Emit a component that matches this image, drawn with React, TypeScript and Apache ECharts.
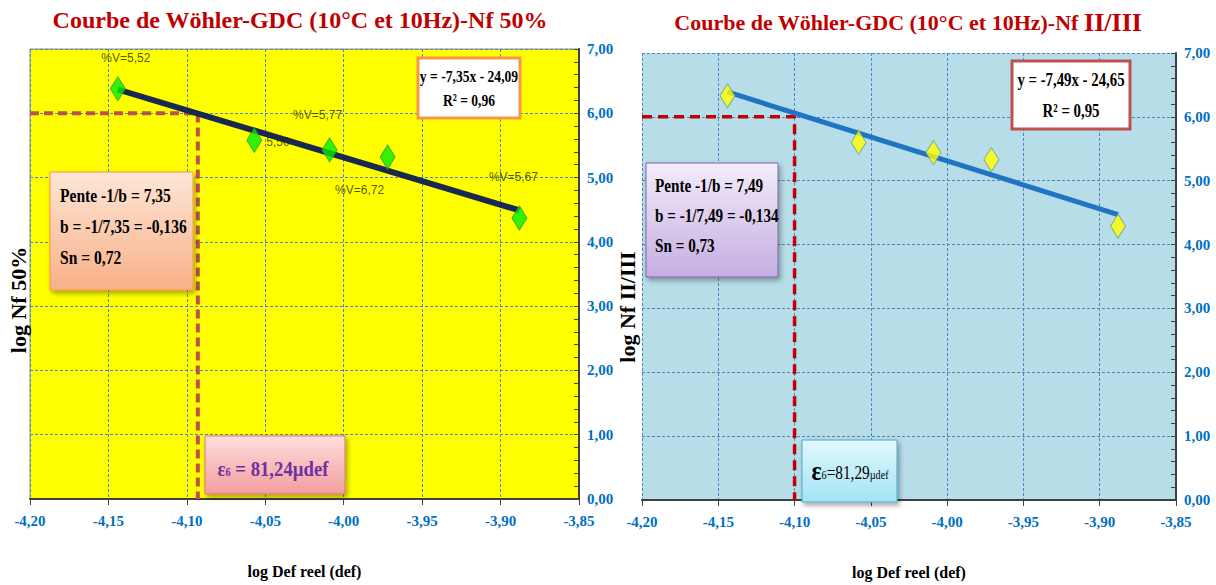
import React, { useEffect, useRef } from "react";
import * as echarts from "echarts";

// ---------- data ----------
const xMin = -4.2;
const xMax = -3.85;
const xStep = 0.05;
const yMin = 0;
const yMax = 7;
const yStep = 1;

const leftX = [-4.144, -4.057, -4.009, -3.972, -3.888];
const leftY = [6.38, 5.58, 5.43, 5.32, 4.37];
const leftLabels = ["%V=5,52", "5,50", "%V=5,77", "%V=6,72", "%V=5,67"];
const leftTrendX = [-4.144, -3.888];
const leftTrendY = [6.37, 4.49];
const leftEps = -4.093;
const leftLevel = 6.0;

const rightX = [-4.144, -4.058, -4.009, -3.971, -3.888];
const rightY = [6.33, 5.6, 5.44, 5.33, 4.29];
const rightTrendX = [-4.144, -3.888];
const rightTrendY = [6.39, 4.47];
const rightEps = -4.1;
const rightLevel = 6.0;

const titles = [
  "Courbe de Wöhler-GDC (10°C et 10Hz)-Nf 50%",
  "Courbe de Wöhler-GDC (10°C et 10Hz)-Nf ",
  "II/III",
];
const xName = "log Def reel (def)";
const yNames = ["log Nf 50%", "log Nf II/III"];
const leftBox = ["Pente -1/b = 7,35", "b = -1/7,35 = -0,136", "Sn = 0,72"];
const rightBox = ["Pente -1/b = 7,49", "b = -1/7,49 = -0,134", "Sn = 0,73"];
const leftEq = ["y = -7,35x - 24,09", "R² = 0,96"];
const rightEq = ["y = -7,49x - 24,65", "R² = 0,95"];

const SERIF = "'Liberation Serif', 'DejaVu Serif', serif";
const fmt = (v: number) => v.toFixed(2).replace(".", ",");

function xAxisCfg(gridIndex: number) {
  return {
    type: "value",
    gridIndex,
    min: xMin,
    max: xMax,
    interval: xStep,
    name: xName,
    nameLocation: "middle",
    nameGap: 64,
    nameTextStyle: { fontFamily: SERIF, fontWeight: "bold", fontSize: 16, color: "#000" },
    axisLine: { show: true, onZero: false, lineStyle: { color: "#404040", width: 2 } },
    axisTick: { show: true, length: 6, lineStyle: { color: "#404040", width: 1 } },
    axisLabel: {
      formatter: fmt,
      color: "#0070c0",
      fontFamily: SERIF,
      fontWeight: "bold",
      fontSize: 15,
      margin: 14,
    },
    splitLine: { show: true, lineStyle: { color: "#4a86c8", type: [3, 2], width: 1 } },
  };
}

function yAxisCfg(gridIndex: number) {
  return {
    type: "value",
    gridIndex,
    position: "right",
    min: yMin,
    max: yMax,
    interval: yStep,
    axisLine: { show: true, lineStyle: { color: "#404040", width: 2 } },
    axisTick: { show: true, inside: true, length: 5, lineStyle: { color: "#404040" } },
    minorTick: { show: true, splitNumber: 5, length: 5, lineStyle: { color: "#404040" } },
    axisLabel: {
      formatter: fmt,
      color: "#0070c0",
      fontFamily: SERIF,
      fontWeight: "bold",
      fontSize: 15,
      margin: 8,
    },
    splitLine: { show: true, lineStyle: { color: "#4a86c8", type: [3, 2], width: 1 } },
  };
}

function ctext(x: number, y: number, text: string, size: number, align: string, scaleX: number) {
  return {
    type: "text",
    x,
    y,
    scaleX,
    z: 12,
    style: {
      text,
      fontSize: size,
      fontWeight: "bold",
      fontFamily: SERIF,
      fill: "#000",
      align,
      verticalAlign: "middle",
    },
  };
}

function grad(c1: string, c2: string) {
  return new echarts.graphic.LinearGradient(0, 0, 0, 1, [
    { offset: 0, color: c1 },
    { offset: 1, color: c2 },
  ]);
}

export default function App() {
  const ref = useRef<HTMLDivElement>(null);
  useEffect(() => {
    document.body.style.margin = "0";
    const chart = echarts.init(ref.current!, null, { renderer: "svg" });

    const labelPos = [
      { position: "top", distance: 12, offset: [8, 0] },
      { position: "right", distance: 4, offset: [0, 2] },
      { position: "top", distance: 16, offset: [-12, 0] },
      { position: "bottom", distance: 14, offset: [-28, 0] },
      { position: "top", distance: 22, offset: [-6, 0] },
    ];

    const shadow = { shadowBlur: 5, shadowOffsetX: 2, shadowOffsetY: 3, shadowColor: "rgba(0,0,0,0.35)" };

    const option: any = {
      animation: false,
      backgroundColor: "#ffffff",
      grid: [
        {
          left: 30,
          top: 49,
          width: 549,
          height: 450,
          show: true,
          backgroundColor: "#ffff00",
          borderColor: "#8c8c8c",
          borderWidth: 1,
        },
        {
          left: 642,
          top: 53,
          width: 534,
          height: 450,
          show: true,
          backgroundColor: "#b7dde8",
          borderColor: "#8c8c8c",
          borderWidth: 0,
        },
      ],
      xAxis: [xAxisCfg(0), xAxisCfg(1)],
      yAxis: [yAxisCfg(0), yAxisCfg(1)],
      series: [
        {
          type: "line",
          xAxisIndex: 0,
          yAxisIndex: 0,
          data: [
            [xMin, leftLevel],
            [leftEps, leftLevel],
            [leftEps, yMin],
          ],
          symbol: "none",
          lineStyle: { color: "#c0504d", width: 4, type: [9, 5] },
          z: 3,
        },
        {
          type: "line",
          xAxisIndex: 0,
          yAxisIndex: 0,
          data: leftTrendX.map((x, i) => [x, leftTrendY[i]]),
          symbol: "none",
          lineStyle: { color: "#17294f", width: 6 },
          z: 4,
        },
        {
          type: "scatter",
          xAxisIndex: 0,
          yAxisIndex: 0,
          symbol: "diamond",
          symbolSize: [15, 24],
          itemStyle: { color: "#00ee00", borderColor: "#2f9a3a", borderWidth: 1 },
          data: leftX.map((x, i) => ({
            value: [x, leftY[i]],
            label: {
              show: true,
              formatter: leftLabels[i],
              color: "#2a2a00",
              fontFamily: "'Liberation Sans Narrow', 'Liberation Sans', sans-serif",
              fontSize: 12,
              ...labelPos[i],
            },
          })),
          z: 5,
        },
        {
          type: "line",
          xAxisIndex: 1,
          yAxisIndex: 1,
          data: [
            [xMin, rightLevel],
            [rightEps, rightLevel],
            [rightEps, yMin],
          ],
          symbol: "none",
          lineStyle: { color: "#c00000", width: 3.5, type: [10, 6] },
          z: 3,
        },
        {
          type: "line",
          xAxisIndex: 1,
          yAxisIndex: 1,
          data: rightTrendX.map((x, i) => [x, rightTrendY[i]]),
          symbol: "none",
          lineStyle: { color: "#1f74c4", width: 5 },
          z: 4,
        },
        {
          type: "scatter",
          xAxisIndex: 1,
          yAxisIndex: 1,
          symbol: "diamond",
          symbolSize: [15, 24],
          itemStyle: { color: "#ffff00", borderColor: "#6e9a8a", borderWidth: 1 },
          data: rightX.map((x, i) => [x, rightY[i]]),
          z: 5,
        },
      ],
      graphic: [
        // titles
        { type: "text", x: 300, y: 20, z: 12, style: { text: titles[0], fontSize: 24, fontWeight: "bold", fontFamily: SERIF, fill: "#c00000", align: "center", verticalAlign: "middle" } },
        {
          type: "text",
          x: 908,
          y: 22,
          z: 12,
          style: {
            text: `{a|${titles[1]}}{b|${titles[2]}}`,
            align: "center",
            verticalAlign: "middle",
            rich: {
              a: { fontSize: 22, fontWeight: "bold", fontFamily: SERIF, fill: "#c00000", color: "#c00000" },
              b: { fontSize: 26, fontWeight: "bold", fontFamily: SERIF, fill: "#c00000", color: "#c00000" },
            },
          },
        },
        // y axis names
        { type: "text", x: 18, y: 300, z: 12, rotation: Math.PI / 2, style: { text: yNames[0], fontSize: 22, fontWeight: "bold", fontFamily: SERIF, fill: "#000", align: "center", verticalAlign: "middle" } },
        { type: "text", x: 627, y: 307, z: 12, rotation: Math.PI / 2, style: { text: yNames[1], fontSize: 22, fontWeight: "bold", fontFamily: SERIF, fill: "#000", align: "center", verticalAlign: "middle" } },
        // left equation box
        { type: "rect", z: 10, shape: { x: 418, y: 58, width: 102, height: 60 }, style: { fill: "#ffffff", stroke: "#f79646", lineWidth: 3 } },
        ctext(469, 76, leftEq[0], 17, "center", 0.8),
        ctext(469, 100, leftEq[1], 17, "center", 0.8),
        // left pente box
        { type: "rect", z: 10, shape: { x: 50, y: 172, width: 143, height: 118 }, style: { fill: grad("#fde6d6", "#f8b088"), stroke: "#f79646", lineWidth: 1, ...shadow } },
        ctext(60, 196, leftBox[0], 19, "left", 0.82),
        ctext(60, 227, leftBox[1], 19, "left", 0.82),
        ctext(60, 258, leftBox[2], 19, "left", 0.82),
        // left epsilon box
        { type: "rect", z: 10, shape: { x: 205, y: 436, width: 140, height: 58 }, style: { fill: grad("#ffdede", "#f39d9d"), stroke: "#d9787a", lineWidth: 1, ...shadow } },
        {
          type: "text",
          x: 273,
          y: 468,
          scaleX: 0.85,
          z: 12,
          style: {
            text: "{a|ε}{b|6}{a| = 81,24µdef}",
            align: "center",
            verticalAlign: "middle",
            rich: {
              a: { fontSize: 22, fontWeight: "bold", fontFamily: SERIF, fill: "#7030a0", color: "#7030a0" },
              b: { fontSize: 12, fontWeight: "bold", fontFamily: SERIF, fill: "#7030a0", color: "#7030a0", padding: [8, 0, 0, 0] },
            },
          },
        },
        // right equation box
        { type: "rect", z: 10, shape: { x: 1012, y: 61, width: 118, height: 68 }, style: { fill: "#ffffff", stroke: "#c0504d", lineWidth: 3 } },
        ctext(1071, 80, rightEq[0], 19, "center", 0.78),
        ctext(1071, 111, rightEq[1], 19, "center", 0.78),
        // right pente box
        { type: "rect", z: 10, shape: { x: 646, y: 163, width: 132, height: 114 }, style: { fill: grad("#f3ecfa", "#c5aee1"), stroke: "#8064a2", lineWidth: 1, ...shadow } },
        ctext(655, 186, rightBox[0], 19, "left", 0.8),
        ctext(655, 216, rightBox[1], 19, "left", 0.8),
        ctext(655, 246, rightBox[2], 19, "left", 0.8),
        // right epsilon box
        { type: "rect", z: 10, shape: { x: 802, y: 440, width: 95, height: 62 }, style: { fill: grad("#e2f8fd", "#a3e3f5"), stroke: "#4bacc6", lineWidth: 1, ...shadow } },
        {
          type: "text",
          x: 850,
          y: 471,
          scaleX: 0.85,
          z: 12,
          style: {
            text: "{a|ε}{b|6}{c|=81,29}{d|µdef}",
            align: "center",
            verticalAlign: "middle",
            rich: {
              a: { fontSize: 28, fontWeight: "bold", fontFamily: SERIF, fill: "#000", color: "#000" },
              b: { fontSize: 12, fontFamily: SERIF, fill: "#000", color: "#000", padding: [8, 0, 0, 0] },
              c: { fontSize: 18, fontFamily: SERIF, fill: "#000", color: "#000", padding: [4, 0, 0, 0] },
              d: { fontSize: 12, fontFamily: SERIF, fill: "#000", color: "#000", padding: [8, 0, 0, 0] },
            },
          },
        },
      ],
    };

    chart.setOption(option);
    return () => chart.dispose();
  }, []);
  return <div ref={ref} style={{ width: 1216, height: 585 }} />;
}
